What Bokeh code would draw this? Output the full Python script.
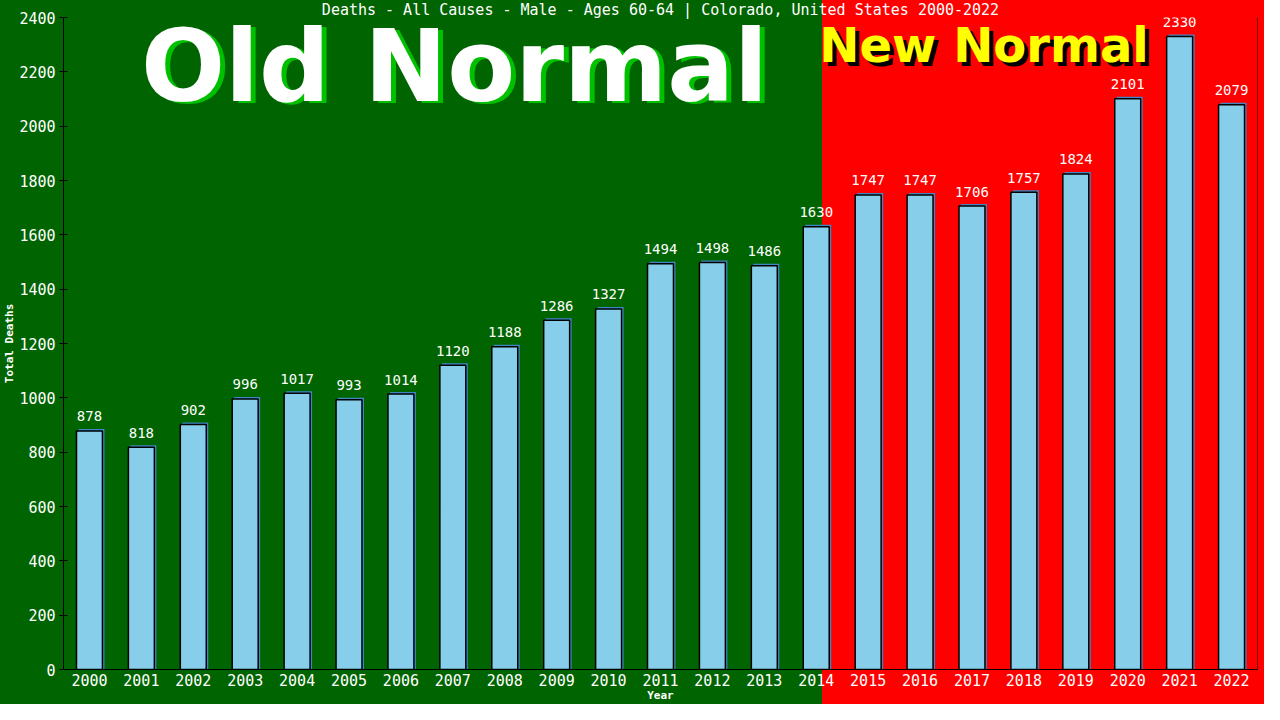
from bokeh.plotting import figure
from bokeh.models import Range1d, FixedTicker, Span
from bokeh.core.properties import value
from bokeh.embed import file_html
from bokeh.resources import INLINE

years = list(range(2000, 2023))
deaths = [878, 818, 902, 996, 1017, 993, 1014, 1120, 1188, 1286, 1327, 1494,
          1498, 1486, 1630, 1747, 1747, 1706, 1757, 1824, 2101, 2330, 2079]
y_ticks = list(range(0, 2401, 200))
title_text = "Deaths - All Causes - Male - Ages 60-64 | Colorado, United States 2000-2022"

GREEN = "#006400"
RED = "#ff0000"
MONO = "DejaVu Sans Mono"

W, H = 1264, 704
SPLIT = 822  # canvas x where the red "new normal" region begins

p = figure(width=W, height=H, x_range=Range1d(1999.5, 2022.5), y_range=Range1d(0, 2400),
           output_backend="svg", toolbar_location=None,
           min_border_left=61, min_border_right=7, min_border_top=17, min_border_bottom=35,
           background_fill_color=None, border_fill_color=None, outline_line_color=None)
p.styles = {"background": f"linear-gradient(to right, {GREEN} 0px, {GREEN} {SPLIT}px, {RED} {SPLIT}px, {RED} 100%)"}
p.grid.visible = False

p.title.text = title_text
p.title.align = "center"
p.title.text_font = MONO
p.title.text_font_size = "15px"
p.title.text_font_style = "normal"
p.title.text_color = "white"
p.title.standoff = -3
p.title.offset = 0

px_x = 23 / 1196
px_y = 2400 / 652

p.vbar(x=[y + 2 * px_x for y in years], top=[d + 2 * px_y for d in deaths], bottom=0,
       width=0.5, fill_color="#3f86c4", line_color=None)
p.vbar(x=years, top=deaths, bottom=0, width=0.5, fill_color="#87ceeb",
       line_color="black", line_width=1.5)

p.text(x=years, y=[d + 14.5 * px_y for d in deaths], text=[str(d) for d in deaths],
       text_font=value(MONO), text_font_size="14px", text_color="white",
       text_align="center", text_baseline="alphabetic")

old_x, old_y = 2007.03, 2219
p.text(x=[old_x + 5 * px_x], y=[old_y - 2 * px_y], text=["Old Normal"],
       text_font=value("DejaVu Sans"), text_font_style="bold", text_font_size="99px",
       text_color="#00c000", text_align="center", text_baseline="alphabetic")
p.text(x=[old_x], y=[old_y], text=["Old Normal"],
       text_font=value("DejaVu Sans"), text_font_style="bold", text_font_size="99px",
       text_color="white", text_align="center", text_baseline="alphabetic")

new_x, new_y = 2014.06, 2300
p.text(x=[new_x + 4 * px_x], y=[new_y - 4 * px_y], text=["New Normal"],
       text_font=value("DejaVu Sans"), text_font_style="bold", text_font_size="48px",
       text_color="black", text_align="left", text_baseline="alphabetic")
p.text(x=[new_x], y=[new_y], text=["New Normal"],
       text_font=value("DejaVu Sans"), text_font_style="bold", text_font_size="48px",
       text_color="#ffff00", text_align="left", text_baseline="alphabetic")

p.add_layout(Span(location=2022.5, dimension="height", line_color="black", line_width=1))

for ax in (p.xaxis, p.yaxis):
    ax.axis_line_color = "black"
    ax.major_tick_line_color = "black"
    ax.minor_tick_line_color = None
    ax.major_label_text_color = "white"
    ax.major_label_text_font = MONO
    ax.major_label_text_font_size = "15px"
    ax.axis_label_text_color = "white"
    ax.axis_label_text_font = MONO
    ax.axis_label_text_font_style = "bold"
    ax.axis_label_text_font_size = "11px"

p.yaxis.ticker = FixedTicker(ticks=y_ticks)
p.yaxis.major_tick_in = 4
p.yaxis.major_tick_out = 4
p.yaxis.major_label_standoff = 4
p.yaxis.axis_label = "Total Deaths"
p.yaxis.axis_label_standoff = 0

p.xaxis.ticker = FixedTicker(ticks=years)
p.xaxis.major_tick_in = 0
p.xaxis.major_tick_out = 0
p.xaxis.major_label_standoff = 4
p.xaxis.axis_label = "Year"
p.xaxis.axis_label_standoff = 0

open("out.html", "w").write(file_html(p, INLINE))
